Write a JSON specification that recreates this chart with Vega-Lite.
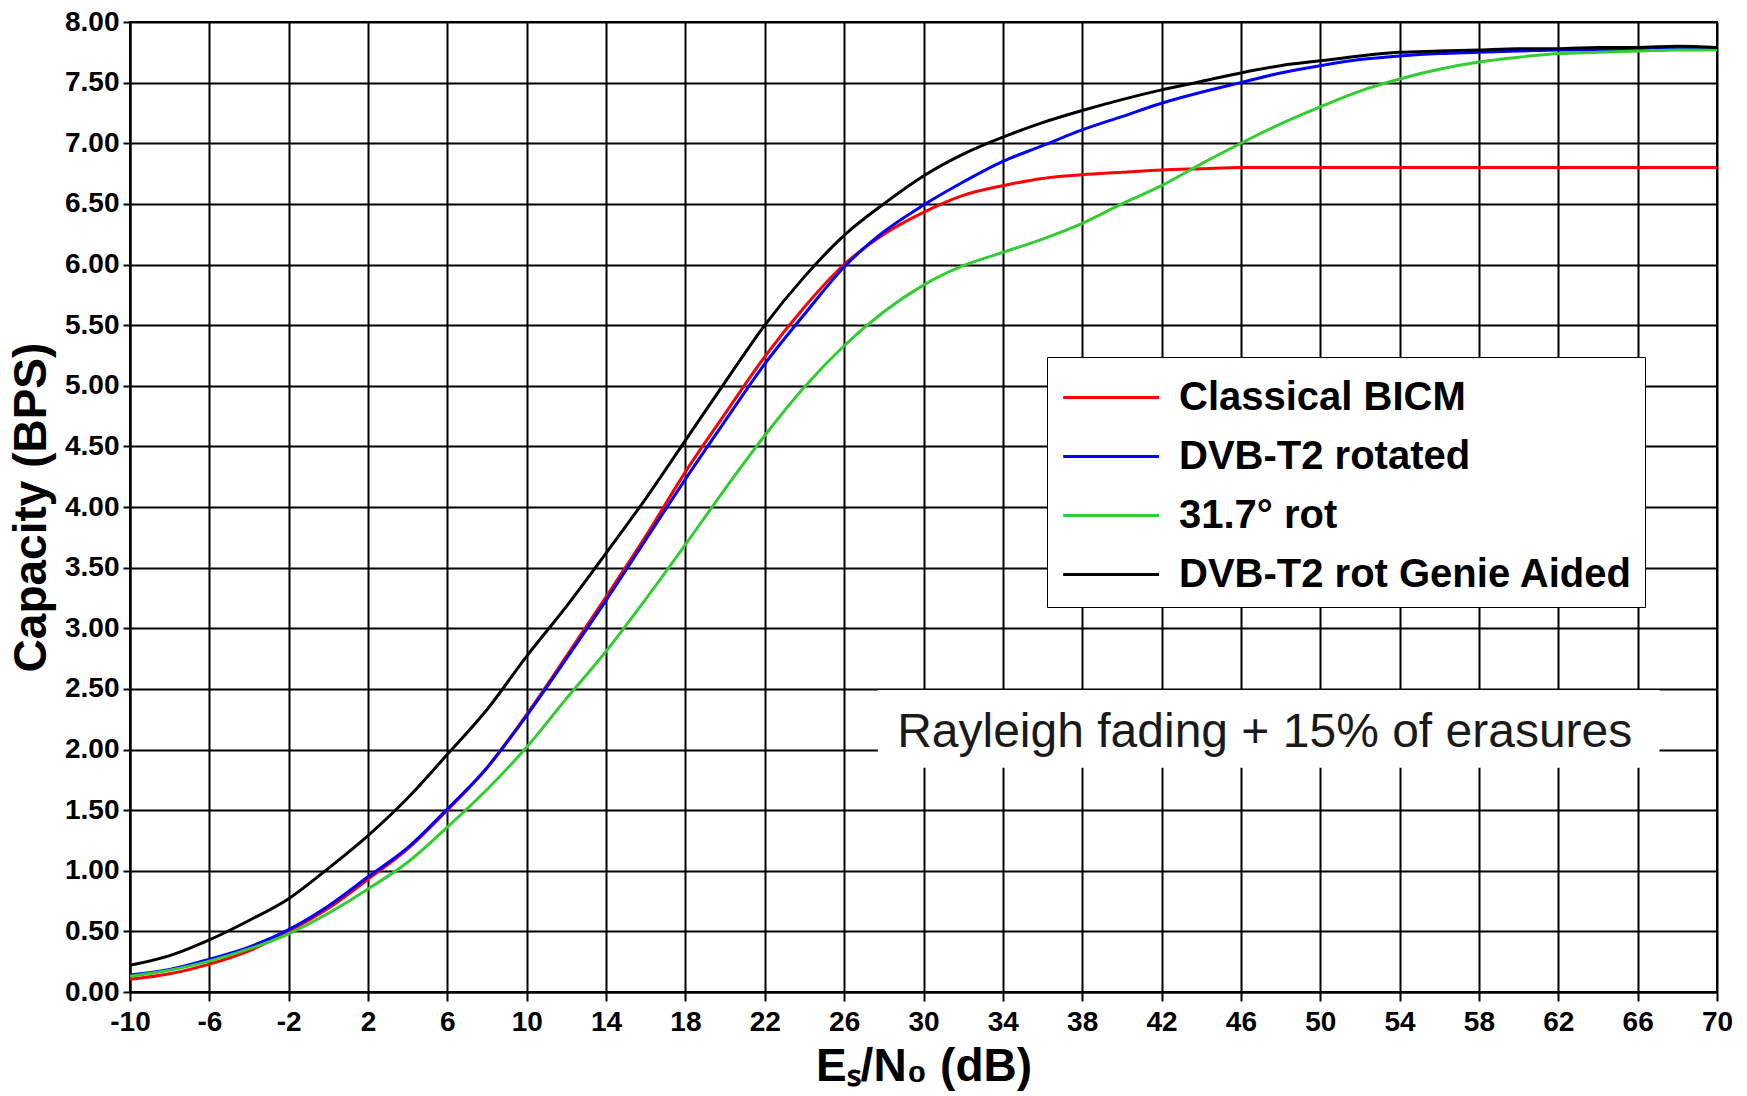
{
  "$schema": "https://vega.github.io/schema/vega-lite/v6.json",
  "width": 1587,
  "height": 970,
  "autosize": {"type": "none"},
  "padding": {"left": 130, "top": 22, "right": 30, "bottom": 104},
  "background": "white",
  "config": {
    "font": "Liberation Sans",
    "view": {"stroke": "black", "strokeWidth": 2},
    "axis": {
      "domainColor": "black", "domainWidth": 2,
      "tickColor": "black", "tickWidth": 2,
      "gridColor": "black", "gridWidth": 2, "gridOpacity": 1,
      "labelFont": "Liberation Sans", "labelFontWeight": "bold", "labelFontSize": 28, "labelColor": "black",
      "titleFont": "Liberation Sans", "titleFontWeight": "bold", "titleColor": "black"
    }
  },
  "data": {
    "values": [
      {"x": -10, "r": 0.105, "b": 0.14, "g": 0.13, "k": 0.22},
      {"x": -8, "r": 0.15, "b": 0.185, "g": 0.18, "k": 0.30},
      {"x": -6, "r": 0.23, "b": 0.27, "g": 0.255, "k": 0.43},
      {"x": -4, "r": 0.34, "b": 0.37, "g": 0.355, "k": 0.59},
      {"x": -2, "r": 0.50, "b": 0.515, "g": 0.48, "k": 0.77},
      {"x": 0, "r": 0.69, "b": 0.71, "g": 0.65, "k": 1.02},
      {"x": 2, "r": 0.93, "b": 0.95, "g": 0.85, "k": 1.29},
      {"x": 4, "r": 1.18, "b": 1.19, "g": 1.07, "k": 1.60},
      {"x": 6, "r": 1.50, "b": 1.51, "g": 1.36, "k": 1.96},
      {"x": 8, "r": 1.85, "b": 1.85, "g": 1.67, "k": 2.33},
      {"x": 10, "r": 2.29, "b": 2.28, "g": 2.02, "k": 2.77},
      {"x": 12, "r": 2.77, "b": 2.75, "g": 2.42, "k": 3.18},
      {"x": 14, "r": 3.26, "b": 3.23, "g": 2.81, "k": 3.62},
      {"x": 16, "r": 3.76, "b": 3.73, "g": 3.24, "k": 4.07},
      {"x": 18, "r": 4.29, "b": 4.23, "g": 3.69, "k": 4.55},
      {"x": 20, "r": 4.77, "b": 4.71, "g": 4.15, "k": 5.03},
      {"x": 22, "r": 5.24, "b": 5.18, "g": 4.59, "k": 5.50},
      {"x": 24, "r": 5.65, "b": 5.59, "g": 4.99, "k": 5.90},
      {"x": 26, "r": 6.00, "b": 5.98, "g": 5.33, "k": 6.24},
      {"x": 28, "r": 6.25, "b": 6.27, "g": 5.61, "k": 6.50},
      {"x": 30, "r": 6.43, "b": 6.49, "g": 5.83, "k": 6.73},
      {"x": 32, "r": 6.57, "b": 6.68, "g": 5.99, "k": 6.91},
      {"x": 34, "r": 6.65, "b": 6.85, "g": 6.10, "k": 7.05},
      {"x": 36, "r": 6.71, "b": 6.98, "g": 6.21, "k": 7.17},
      {"x": 38, "r": 6.74, "b": 7.11, "g": 6.34, "k": 7.27},
      {"x": 40, "r": 6.76, "b": 7.22, "g": 6.50, "k": 7.36},
      {"x": 42, "r": 6.78, "b": 7.33, "g": 6.65, "k": 7.44},
      {"x": 44, "r": 6.79, "b": 7.42, "g": 6.83, "k": 7.51},
      {"x": 46, "r": 6.80, "b": 7.50, "g": 7.00, "k": 7.58},
      {"x": 48, "r": 6.80, "b": 7.58, "g": 7.16, "k": 7.64},
      {"x": 50, "r": 6.80, "b": 7.64, "g": 7.30, "k": 7.68},
      {"x": 52, "r": 6.80, "b": 7.69, "g": 7.43, "k": 7.72},
      {"x": 54, "r": 6.80, "b": 7.72, "g": 7.53, "k": 7.75},
      {"x": 56, "r": 6.80, "b": 7.74, "g": 7.61, "k": 7.76},
      {"x": 58, "r": 6.80, "b": 7.75, "g": 7.67, "k": 7.77},
      {"x": 60, "r": 6.80, "b": 7.76, "g": 7.71, "k": 7.78},
      {"x": 62, "r": 6.80, "b": 7.77, "g": 7.74, "k": 7.78},
      {"x": 64, "r": 6.80, "b": 7.77, "g": 7.75, "k": 7.79},
      {"x": 66, "r": 6.80, "b": 7.77, "g": 7.76, "k": 7.79},
      {"x": 68, "r": 6.80, "b": 7.78, "g": 7.77, "k": 7.80},
      {"x": 70, "r": 6.80, "b": 7.78, "g": 7.77, "k": 7.79}
    ]
  },
  "layer": [
    {
      "transform": [
        {"fold": ["r", "b", "g", "k"], "as": ["key", "capacity"]},
        {"lookup": "key", "from": {"data": {"values": [
          {"key": "r", "series": "Classical BICM"},
          {"key": "b", "series": "DVB-T2 rotated"},
          {"key": "g", "series": "31.7° rot"},
          {"key": "k", "series": "DVB-T2 rot Genie Aided"}
        ]}, "key": "key", "fields": ["series"]}}
      ],
      "mark": {"type": "line", "strokeWidth": 3, "interpolate": "monotone"},
      "encoding": {
        "x": {
          "field": "x", "type": "quantitative",
          "scale": {"domain": [-10, 70], "nice": false, "zero": false},
          "axis": {
            "values": [-10,-8,-6,-4,-2,0,2,4,6,8,10,12,14,16,18,20,22,24,26,28,30,32,34,36,38,40,42,44,46,48,50,52,54,56,58,60,62,64,66,68,70],
            "labelExpr": "(datum.value + 10) % 4 == 0 ? ('' + datum.value) : ''",
            "gridOpacity": {"condition": {"test": "(datum.value + 10) % 4 != 0", "value": 0}, "value": 1},
            "tickSize": {"condition": {"test": "(datum.value + 10) % 4 != 0", "value": 5}, "value": 9},
            "labelPadding": 7,
            "labelFlush": false,
            "labelOverlap": false,
            "title": "Eₛ/N₀ (dB)",
            "titleFontSize": 46,
            "titlePadding": 8
          }
        },
        "y": {
          "field": "capacity", "type": "quantitative",
          "scale": {"domain": [0, 8], "nice": false},
          "axis": {
            "values": [0,0.5,1,1.5,2,2.5,3,3.5,4,4.5,5,5.5,6,6.5,7,7.5,8],
            "format": ".2f",
            "tickSize": 7,
            "labelPadding": 4,
            "labelFlush": false,
            "labelOverlap": false,
            "title": "Capacity (BPS)",
            "titleFontSize": 46,
            "titlePadding": 9
          }
        },
        "color": {
          "field": "series", "type": "nominal",
          "scale": {
            "domain": ["Classical BICM", "DVB-T2 rotated", "31.7° rot", "DVB-T2 rot Genie Aided"],
            "range": ["#ff0000", "#0000ff", "#33cc33", "#000000"]
          },
          "legend": {
            "title": null,
            "orient": "none",
            "legendX": 917,
            "legendY": 335,
            "direction": "vertical",
            "fillColor": "white",
            "strokeColor": "black",
            "padding": 12,
            "symbolType": "M-0.9,0H2.65",
            "symbolSize": 2916,
            "symbolStrokeWidth": 3,
            "labelFont": "Liberation Sans",
            "labelFontWeight": "bold",
            "labelFontSize": 40,
            "labelColor": "black",
            "labelOffset": 63,
            "labelLimit": 800,
            "rowPadding": 10
          }
        }
      }
    },
    {
      "data": {"values": [{}]},
      "mark": {"type": "rect", "fill": "white"},
      "encoding": {
        "x": {"datum": 27.7},
        "x2": {"datum": 67.1},
        "y": {"datum": 1.85},
        "y2": {"datum": 2.49}
      }
    },
    {
      "data": {"values": [{"label": "Rayleigh fading + 15% of erasures", "x": 47.2, "y": 2.02}]},
      "mark": {"type": "text", "font": "Liberation Sans", "fontSize": 48, "align": "center", "baseline": "alphabetic", "color": "#1a1a1a"},
      "encoding": {
        "x": {"field": "x", "type": "quantitative"},
        "y": {"field": "y", "type": "quantitative"},
        "text": {"field": "label"}
      }
    }
  ]
}
